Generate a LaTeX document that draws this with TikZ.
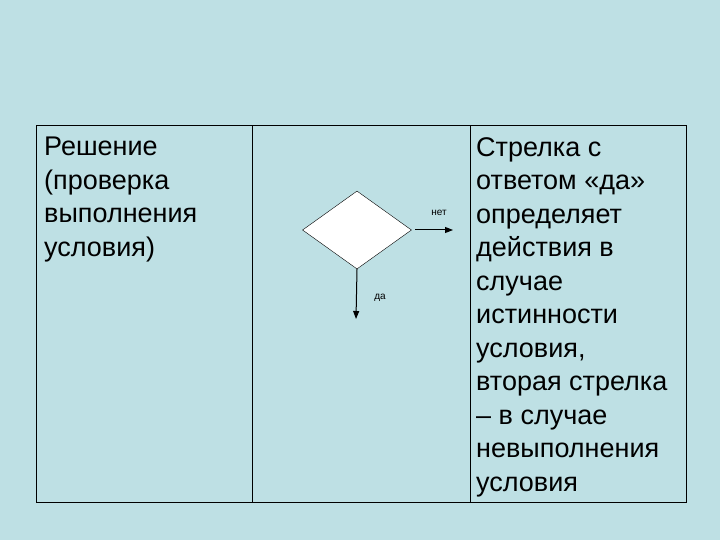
\documentclass[tikz,border=0pt]{standalone}
\usepackage{fontspec}
\setmainfont{Liberation Sans}
\usetikzlibrary{shapes.geometric,arrows.meta}
\begin{document}
\begin{tikzpicture}[x=1pt,y=-1pt,
  txt/.style={anchor=north west,inner sep=0pt,align=left,font=\fontsize{27}{33.5}\selectfont},
  small/.style={font=\fontsize{10}{12}\selectfont,inner sep=0pt},
  arr/.style={draw,line width=1pt,-{Triangle[length=8pt,width=6pt]}}]
\fill[fill={rgb,255:red,190;green,224;blue,228}] (0,0) rectangle (720,540);
\useasboundingbox (0,0) rectangle (720,540);
\draw[line width=1pt] (36,126) rectangle (686,502);
\draw[line width=0.8pt] (252,126) -- (252,502);
\draw[line width=0.8pt] (470,126) -- (470,502);
\node[txt] (left) at (44,137) {Решение\\(проверка\\выполнения\\условия)};
\node[txt] (right) at (476,137) {Стрелка с\\ответом «да»\\определяет\\действия в\\случае\\истинности\\условия,\\вторая стрелка\\– в случае\\невыполнения\\условия};
\node[diamond,draw,fill=white,minimum width=109pt,minimum height=78pt,inner sep=0pt,aspect=1.4] (d) at (357,230) {};
\coordinate (r) at (453,230);
\coordinate (b) at (356,319);
\draw[arr] (415,230) -- (r);
\draw[arr] (d.south) -- (b);
\node[small] (no) at (439,213) {нет};
\node[small] (yes) at (380,298) {да};
\end{tikzpicture}
\end{document}
